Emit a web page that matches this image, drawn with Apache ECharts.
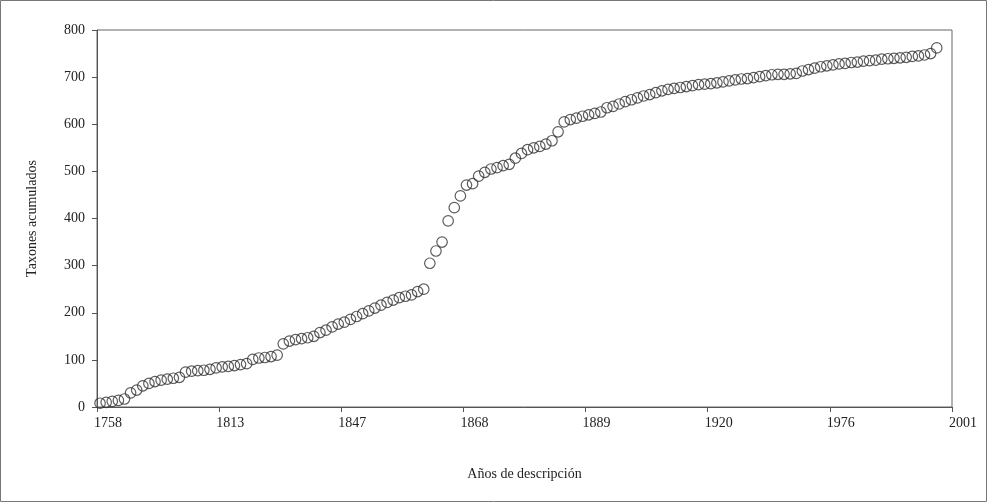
<!DOCTYPE html>
<html>
<head>
<meta charset="utf-8">
<script src="https://cdn.jsdelivr.net/npm/echarts@6/dist/echarts.min.js"></script>
<style>
  html, body { margin: 0; padding: 0; background: #fff; }
  #chart { width: 990px; height: 503px; }
</style>
</head>
<body>
<div id="chart"></div>
<script>
// year labels shown every 20 categories
const yearLabels = ['1758', '1813', '1847', '1868', '1889', '1920', '1976', '2001']

// cumulative taxa, one value per category (year with descriptions)
const taxa = [
  8, 10, 12, 14, 17, 30, 36, 45, 50, 54,
  57, 59, 61, 63, 74, 76, 77, 78, 80, 83,
  85, 86, 88, 90, 92, 101, 104, 105, 107, 110,
  134, 140, 143, 145, 147, 150, 158, 163, 170, 176,
  180, 186, 192, 198, 204, 210, 216, 222, 227, 232,
  235, 238, 245, 250, 305, 331, 350, 395, 423, 448,
  471, 474, 490, 498, 505, 508, 512, 515, 528, 538,
  546, 550, 553, 558, 565, 584, 605, 610, 613, 617,
  620, 623, 626, 635, 638, 643, 648, 652, 656, 660,
  663, 667, 671, 674, 676, 678, 680, 682, 684, 685,
  686, 688, 690, 692, 694, 696, 697, 699, 701, 703,
  705, 706, 706, 707, 708, 713, 716, 719, 722, 724,
  726, 728, 729, 731, 732, 734, 735, 736, 738, 739,
  740, 741, 742, 744, 745, 747, 750, 762
]

const categoryCount = 140
const labelStep = 20

const chart = echarts.init(document.getElementById('chart'))

const font = "'Liberation Serif', 'DejaVu Serif', serif"

const options = {
  animation: false,
  graphic: [{
    type: 'rect',
    shape: { x: 0.5, y: 0.5, width: 986, height: 501 },
    style: { fill: 'none', stroke: '#777', lineWidth: 1 }
  }],
  grid: {
    left: 97, right: 38, top: 30, bottom: 96,
    show: true, borderColor: '#666', borderWidth: 1
  },
  xAxis: {
    type: 'value',
    min: 0,
    max: categoryCount,
    interval: labelStep,
    name: 'Años de descripción',
    nameLocation: 'middle',
    nameGap: 60,
    nameTextStyle: { fontFamily: font, fontSize: 14, color: '#222' },
    axisLine: { show: true, lineStyle: { color: '#555' } },
    axisTick: { show: true, length: 5, lineStyle: { color: '#555' } },
    splitLine: { show: false },
    axisLabel: {
      fontFamily: font, fontSize: 14, color: '#222', margin: 9,
      padding: [0, 0, 0, 22],
      formatter: v => yearLabels[Math.round(v / labelStep)] || ''
    }
  },
  yAxis: {
    type: 'value',
    min: 0,
    max: 800,
    interval: 100,
    name: 'Taxones acumulados',
    nameLocation: 'middle',
    nameGap: 58,
    nameTextStyle: { fontFamily: font, fontSize: 14, color: '#222' },
    axisLine: { show: true, lineStyle: { color: '#555' } },
    axisTick: { show: true, length: 5, lineStyle: { color: '#555' } },
    splitLine: { show: false },
    axisLabel: { fontFamily: font, fontSize: 14, color: '#222', margin: 12 }
  },
  series: [
    {
      type: 'scatter',
      symbol: 'circle',
      symbolSize: 10.5,
      data: taxa.map((v, i) => [i + 0.5, v]),
      itemStyle: { color: 'rgba(0,0,0,0)', borderColor: '#333', borderWidth: 1.2 }
    }
  ]
}

chart.setOption(options)
</script>
</body>
</html>
